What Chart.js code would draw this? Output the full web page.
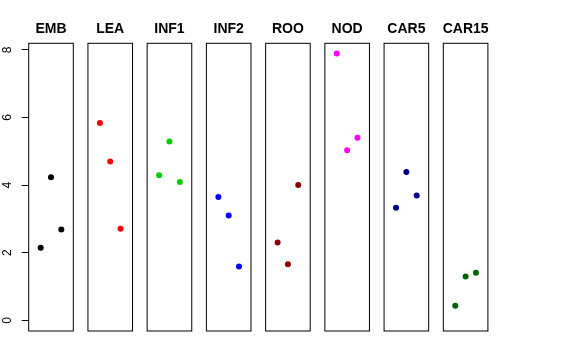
<!DOCTYPE html>
<html>
<head>
<meta charset="utf-8">
<script src="https://cdn.jsdelivr.net/npm/chart.js@4"></script>
<style>
  body { margin: 0; background: #fff; }
  #wrap { position: relative; width: 576px; height: 360px; }
  #wrap canvas { position: absolute; top: 0; }
</style>
</head>
<body>
<div id="wrap"></div>
<script>
// valeurs, 3 points par panneau (x = 1, 2, 3)
const panels = ['EMB', 'LEA', 'INF1', 'INF2', 'ROO', 'NOD', 'CAR5', 'CAR15'];
const positions = [1, 2, 3];
const emb = [2.15, 4.23, 2.69];
const lea = [5.84, 4.70, 2.71];
const inf1 = [4.29, 5.29, 4.09];
const inf2 = [3.65, 3.10, 1.59];
const roo = [2.30, 1.66, 4.00];
const nod = [7.89, 5.03, 5.40];
const car5 = [3.33, 4.39, 3.69];
const car15 = [0.43, 1.30, 1.41];
const colours = ['#000000', '#FF0000', '#00CD00', '#0000FF', '#8B0000', '#FF00FF', '#00008B', '#006400'];
const yTicks = [0, 2, 4, 6, 8];

const series = [emb, lea, inf1, inf2, roo, nod, car5, car15];

// mise en page (comme R : xlim 0..4, ylim 0..max, +4%)
const boxLeft0 = 28.7, pitch = 59.23, boxW = 44.6, margin = 8;
const yMax = 7.88, yPad = yMax * 0.04;

// cadre + titre de chaque panneau
const boxPlugin = {
  id: 'box',
  afterDraw(chart, args, opts) {
    const a = chart.chartArea, ctx = chart.ctx;
    ctx.save();
    ctx.strokeStyle = '#000';
    ctx.lineWidth = 1;
    ctx.strokeRect(a.left, a.top, a.right - a.left, a.bottom - a.top);
    ctx.fillStyle = '#000';
    ctx.font = 'bold 14px "Liberation Sans", Arial, sans-serif';
    ctx.textAlign = 'center';
    ctx.textBaseline = 'middle';
    ctx.fillText(opts.text, (a.left + a.right) / 2, 29);
    ctx.restore();
  }
};

// étiquettes de l'axe y tournées comme dans R
const yLabels = {
  id: 'yLabels',
  afterDraw(chart) {
    const s = chart.scales.y;
    if (!s.options.display) return;
    const ctx = chart.ctx;
    ctx.save();
    ctx.fillStyle = '#000';
    ctx.font = '12px "Liberation Sans", Arial, sans-serif';
    ctx.textAlign = 'center';
    ctx.textBaseline = 'middle';
    s.ticks.forEach(t => {
      const y = s.getPixelForValue(t.value);
      ctx.save();
      ctx.translate(8, y);
      ctx.rotate(-Math.PI / 2);
      ctx.fillText(String(t.value), 0, 0);
      ctx.restore();
    });
    ctx.restore();
  }
};

const wrap = document.getElementById('wrap');

panels.forEach((name, i) => {
  const first = i === 0;
  const left = boxLeft0 + i * pitch;
  const cv = document.createElement('canvas');
  const cLeft = first ? 0 : Math.floor(left) - margin;
  const cWidth = Math.ceil(left + boxW) + margin - cLeft;
  cv.width = cWidth;
  cv.height = 360;
  cv.style.left = cLeft + 'px';
  wrap.appendChild(cv);

  const yScale = {
    type: 'linear',
    display: first,
    min: -yPad,
    max: yMax + yPad,
    afterBuildTicks: s => { s.ticks = yTicks.map(v => ({ value: v })); },
    border: { display: false },
    grid: { drawOnChartArea: false, drawTicks: true, tickLength: 7, color: '#000' },
    ticks: { display: false }
  };
  if (first) yScale.afterFit = s => { s.width = left; };

  new Chart(cv, {
    type: 'scatter',
    data: {
      datasets: [{
        data: positions.map((x, k) => ({ x: x, y: series[i][k] })),
        backgroundColor: colours[i],
        borderColor: colours[i],
        pointRadius: 3,
        pointHoverRadius: 3,
        borderWidth: 0
      }]
    },
    options: {
      responsive: false,
      animation: false,
      events: [],
      layout: {
        padding: {
          left: first ? 0 : left - cLeft,
          right: cWidth - (left - cLeft) - boxW,
          top: 43.3,
          bottom: 29
        }
      },
      plugins: {
        legend: { display: false },
        tooltip: { enabled: false },
        title: { display: false },
        box: { text: name }
      },
      scales: {
        x: { type: 'linear', display: false, min: -0.16, max: 4.16 },
        y: yScale
      }
    },
    plugins: [boxPlugin, yLabels]
  });
});
</script>
</body>
</html>
